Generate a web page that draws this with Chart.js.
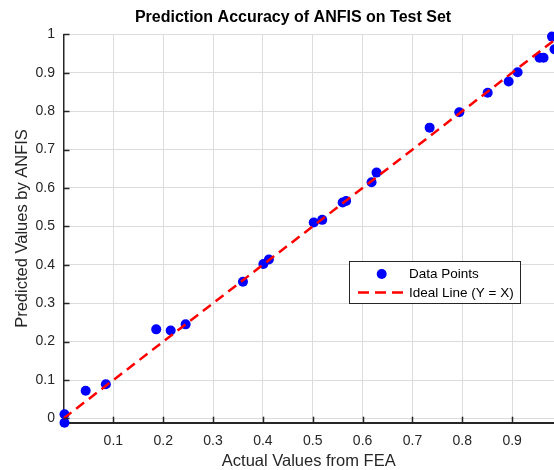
<!DOCTYPE html>
<html>
<head>
<meta charset="utf-8">
<script src="https://cdn.jsdelivr.net/npm/chart.js"></script>
<style>
  body { margin: 0; background: #fff; }
  #wrap { width: 554px; height: 470px; }
</style>
</head>
<body>
<div id="wrap"><canvas id="accChart" width="554" height="470"></canvas></div>
<script>
// ---- data ----
const actualFEA = [0.002, 0.002, 0.0445, 0.085, 0.186, 0.215, 0.245, 0.360, 0.401, 0.412,
                   0.502, 0.519, 0.560, 0.567, 0.618, 0.628, 0.7345, 0.794, 0.851, 0.893,
                   0.911, 0.955, 0.963, 0.980, 0.985, 0.985];
const predictedANFIS = [0.011, -0.011, 0.072, 0.089, 0.232, 0.229, 0.245, 0.356, 0.402, 0.414,
                        0.510, 0.517, 0.562, 0.566, 0.615, 0.640, 0.757, 0.797, 0.848, 0.877,
                        0.901, 0.939, 0.939, 0.994, 0.961, 0.936];
const idealX = [0, 1];
const idealY = [0, 1];

const xTicks = [0.1, 0.2, 0.3, 0.4, 0.5, 0.6, 0.7, 0.8, 0.9];
const xTickLabels = ['0.1', '0.2', '0.3', '0.4', '0.5', '0.6', '0.7', '0.8', '0.9'];
const yTicks = [0, 0.1, 0.2, 0.3, 0.4, 0.5, 0.6, 0.7, 0.8, 0.9, 1];
const yTickLabels = ['0', '0.1', '0.2', '0.3', '0.4', '0.5', '0.6', '0.7', '0.8', '0.9', '1'];

const FONT = "'Liberation Sans', Arial, Helvetica, sans-serif";
const AXIS_COL = '#262626';

// title, inward tick marks and the legend box (matlab look)
const matlabBits = {
    id: 'matlabBits',
    afterDraw(chart) {
        const ctx = chart.ctx;
        const area = chart.chartArea;
        const xs = chart.scales.x, ys = chart.scales.y;
        ctx.save();

        // inward ticks
        ctx.strokeStyle = AXIS_COL;
        ctx.lineWidth = 1.5;
        ctx.setLineDash([]);
        yTicks.forEach(v => {
            const py = Math.round(ys.getPixelForValue(v)) + 0.5;
            ctx.beginPath();
            ctx.moveTo(area.left, py);
            ctx.lineTo(area.left + 6, py);
            ctx.stroke();
        });
        xTicks.forEach(v => {
            const px = Math.round(xs.getPixelForValue(v)) + 0.5;
            ctx.beginPath();
            ctx.moveTo(px, area.bottom);
            ctx.lineTo(px, area.bottom - 6);
            ctx.stroke();
        });

        // title
        ctx.fillStyle = '#000';
        ctx.font = 'bold 16px ' + FONT;
        ctx.textAlign = 'center';
        ctx.textBaseline = 'middle';
        ctx.fillText('Prediction Accuracy of ANFIS on Test Set', 293, 17.5);

        // legend
        const ds = chart.data.datasets;
        ctx.fillStyle = '#fff';
        ctx.fillRect(349.5, 261.5, 171, 42);
        ctx.strokeStyle = AXIS_COL;
        ctx.lineWidth = 1;
        ctx.strokeRect(349.5, 261.5, 171, 42);

        ctx.fillStyle = '#0000ff';
        ctx.beginPath();
        ctx.arc(381.7, 274, 5, 0, Math.PI * 2);
        ctx.fill();

        ctx.strokeStyle = '#ff0000';
        ctx.lineWidth = 2.5;
        ctx.setLineDash([11, 6]);
        ctx.beginPath();
        ctx.moveTo(358, 292.5);
        ctx.lineTo(404, 292.5);
        ctx.stroke();
        ctx.setLineDash([]);

        ctx.fillStyle = '#000';
        ctx.font = '13.5px ' + FONT;
        ctx.textAlign = 'left';
        ctx.fillText(ds[0].label, 409, 274.5);
        ctx.fillText(ds[1].label, 409, 293);
        ctx.restore();
    }
};

const ctx = document.getElementById('accChart').getContext('2d');
new Chart(ctx, {
    type: 'scatter',
    data: {
        datasets: [{
            label: 'Data Points',
            data: actualFEA.map((v, i) => ({ x: v, y: predictedANFIS[i] })),
            backgroundColor: '#0000ff',
            borderWidth: 0,
            pointRadius: 5,
            pointHoverRadius: 5,
            clip: false,
            order: 1
        }, {
            type: 'line',
            label: 'Ideal Line (Y = X)',
            data: idealX.map((v, i) => ({ x: v, y: idealY[i] })),
            borderColor: '#ff0000',
            borderWidth: 2.5,
            borderDash: [10, 6],
            pointRadius: 0,
            fill: false,
            order: 0
        }]
    },
    options: {
        responsive: false,
        animation: false,
        events: [],
        layout: { autoPadding: false, padding: { top: 34.3, left: 0, right: 0, bottom: 0 } },
        plugins: {
            legend: { display: false },
            title: { display: false },
            tooltip: { enabled: false }
        },
        scales: {
            x: {
                type: 'linear',
                min: 0,
                max: 0.984,
                afterFit: s => { s.height = 47.3; },
                afterBuildTicks: s => { s.ticks = xTicks.map(v => ({ value: v })); },
                grid: { color: '#dcdcdc', lineWidth: 1, drawTicks: false },
                border: { display: true, color: AXIS_COL, width: 2 },
                ticks: {
                    padding: 10.5,
                    color: AXIS_COL,
                    font: { family: FONT, size: 14 },
                    maxRotation: 0,
                    callback: (v, i) => xTickLabels[i]
                },
                title: {
                    display: true,
                    text: 'Actual Values from FEA',
                    color: AXIS_COL,
                    font: { family: FONT, size: 16.5, lineHeight: 1.0 },
                    padding: { top: 0, bottom: 0 }
                }
            },
            y: {
                type: 'linear',
                min: -0.011,
                max: 1,
                afterFit: s => { s.width = 63.5; },
                afterBuildTicks: s => { s.ticks = yTicks.map(v => ({ value: v })); },
                grid: { color: '#dcdcdc', lineWidth: 1, drawTicks: false },
                border: { display: true, color: AXIS_COL, width: 1.5 },
                ticks: {
                    padding: 8.5,
                    color: AXIS_COL,
                    font: { family: FONT, size: 14 },
                    callback: (v, i) => yTickLabels[i]
                },
                title: {
                    display: true,
                    text: 'Predicted Values by ANFIS',
                    color: AXIS_COL,
                    font: { family: FONT, size: 16.5 },
                    padding: { top: 13, bottom: 0 }
                }
            }
        }
    },
    plugins: [matlabBits]
});
</script>
</body>
</html>
